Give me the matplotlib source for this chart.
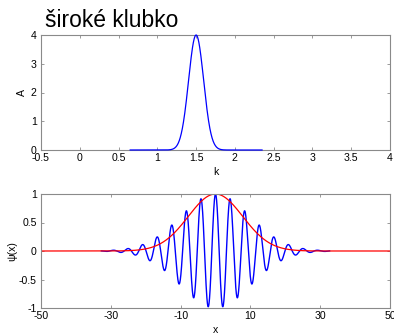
import numpy as np
from matplotlib import pyplot as plt

# values
title_text = 'široké klubko'
k0 = 1.5            # centre of the packet in k
a_peak = 4.0        # peak of A(k)
sigma_k = 0.097     # width of A(k)
k_span = [0.65, 2.35]
k_ticks = [-0.5, 0, 0.5, 1, 1.5, 2, 2.5, 3, 3.5, 4]
k_tick_labels = ['-0.5', '0', '0.5', '1', '1.5', '2', '2.5', '3', '3.5', '4']
a_ticks = [0, 1, 2, 3, 4]

sigma_x = 10.0      # width of the blue packet
sigma_red = 7.8     # width of the red envelope
x_span = [-32.7, 32.7]
x_ticks = [-50, -30, -10, 10, 30, 50]
x_tick_labels = ['-50', '-30', '-10', '10', '30', '50']
psi_ticks = [-1, -0.5, 0, 0.5, 1]
psi_tick_labels = ['-1', '-0.5', '0', '0.5', '1']

plt.rcParams['font.family'] = ['Liberation Sans', 'DejaVu Sans']
plt.rcParams['axes.unicode_minus'] = False

W, H = 394, 334
fig = plt.figure(figsize=(W / 100, H / 100), dpi=100)
FS = 7.6


def style(ax):
	for s in ax.spines.values():
		s.set_color('#8a8a8a')
		s.set_linewidth(0.8)
	ax.tick_params(direction='in', top=True, right=True, length=2.5,
		width=0.6, color='#8a8a8a', labelsize=FS, pad=2.0)
	ax.tick_params(axis='y', pad=3)


ax1 = fig.add_axes([41 / W, 1 - 150 / H, 349 / W, 115 / H])
k = np.linspace(k_span[0], k_span[1], 600)
amp = a_peak * np.exp(-(k - k0) ** 2 / (2 * sigma_k ** 2))
ax1.plot(k, amp, color='blue', lw=0.9, clip_on=False, zorder=3)
ax1.set_xlim(-0.5, 4)
ax1.set_ylim(0, 4)
ax1.set_xticks(k_ticks)
ax1.set_xticklabels(k_tick_labels)
ax1.set_yticks(a_ticks)
style(ax1)
ax1.set_xlabel('k', fontsize=FS)
ax1.set_ylabel('A', fontsize=FS)
ax1.xaxis.label.set_va('center')
ax1.yaxis.label.set_va('center')
ax1.xaxis.set_label_coords(0.5, -(172 - 150) / 115)
ax1.yaxis.set_label_coords(-(41 - 22) / 349, 0.5)

ax2 = fig.add_axes([41 / W, 1 - 308 / H, 349 / W, 114 / H])
x = np.linspace(x_span[0], x_span[1], 2000)
psi = np.exp(-x ** 2 / (2 * sigma_x ** 2)) * np.cos(k0 * x)
xr = np.linspace(-50, 50, 1000)
env = np.exp(-xr ** 2 / (2 * sigma_red ** 2))
ax2.plot(x, psi, color='blue', lw=1.0)
ax2.plot(xr, env, color='red', lw=0.9)
ax2.set_xlim(-50, 50)
ax2.set_ylim(-1, 1)
ax2.set_xticks(x_ticks)
ax2.set_xticklabels(x_tick_labels)
ax2.set_yticks(psi_ticks)
ax2.set_yticklabels(psi_tick_labels)
style(ax2)
ax2.set_xlabel('x', fontsize=FS)
ax2.set_ylabel('ψ(x)', fontsize=FS)
ax2.xaxis.label.set_va('center')
ax2.yaxis.label.set_va('center')
ax2.xaxis.set_label_coords(0.5, -(330 - 308) / 114)
ax2.yaxis.set_label_coords(-(41 - 12) / 349, 0.5)

fig.text(45 / W, 1 - 27 / H, title_text, fontsize=16.5, ha='left',
	va='baseline')

fig.savefig('out.png', dpi=100)
